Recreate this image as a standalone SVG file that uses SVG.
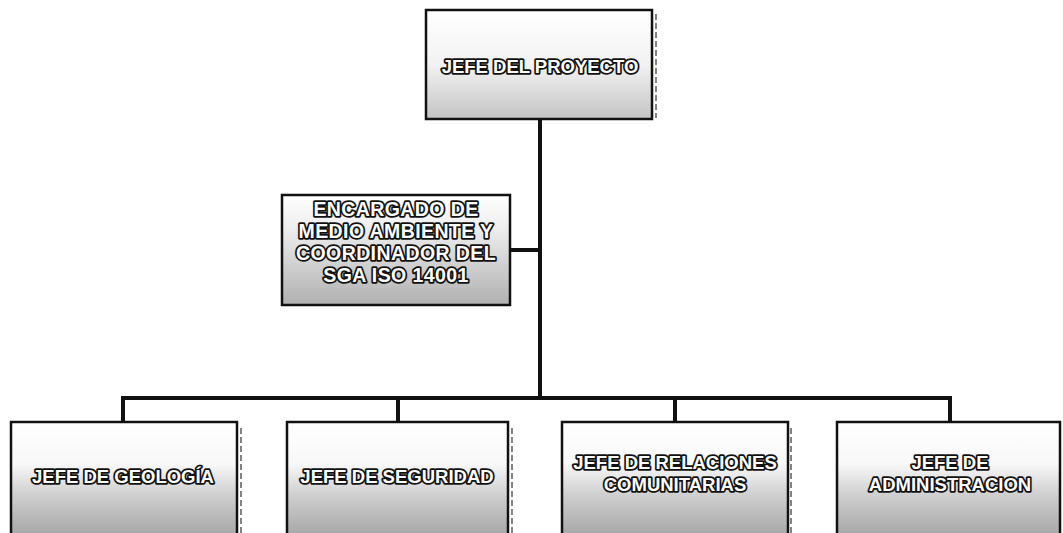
<svg xmlns="http://www.w3.org/2000/svg" width="1063" height="533" viewBox="0 0 1063 533">
<style>
.box{stroke:#111;stroke-width:2.5}
.edge{fill:none;stroke:#333;stroke-width:1.2;stroke-dasharray:6 3}
.lbl{font-family:"Liberation Sans",Arial,sans-serif;font-weight:bold;font-size:18.5px;fill:#fff;stroke:#111;stroke-width:3.5;paint-order:stroke;stroke-linejoin:round;text-anchor:middle}
.big{font-size:19.5px;letter-spacing:0.4px}
.conn{fill:none;stroke:#111;stroke-width:4;stroke-linejoin:miter}
</style>
<defs>
<linearGradient id="g1" x1="0" y1="0" x2="0" y2="1">
<stop offset="0" stop-color="#ffffff"/>
<stop offset="0.5" stop-color="#f2f2f2"/>
<stop offset="1" stop-color="#c4c4c4"/>
</linearGradient>
<linearGradient id="g2" x1="0" y1="0" x2="0" y2="1">
<stop offset="0" stop-color="#ffffff"/>
<stop offset="0.3" stop-color="#eeeeee"/>
<stop offset="1" stop-color="#b0b0b0"/>
</linearGradient>
<linearGradient id="g3" x1="0" y1="0" x2="0" y2="1">
<stop offset="0" stop-color="#ffffff"/>
<stop offset="0.35" stop-color="#f8f8f8"/>
<stop offset="0.6" stop-color="#d0d0d0"/>
<stop offset="1" stop-color="#a0a0a0"/>
</linearGradient>
</defs>
<g id="connectors">
<path class="conn" d="M540 120 V398"/>
<path class="conn" d="M510 250 H540"/>
<path class="conn" d="M123 422 V398 H950 V422"/>
<path class="conn" d="M398 398 V422"/>
<path class="conn" d="M675 398 V422"/>
</g>
<g id="n-proyecto">
<rect class="box" x="426" y="10" width="226" height="109" fill="url(#g1)"/>
<path class="edge" d="M656 14 V118"/>
<text class="lbl" x="540" y="73">JEFE DEL PROYECTO</text>
</g>
<g id="n-ambiente">
<rect class="box" x="282" y="195" width="228" height="110" fill="url(#g2)"/>
<text class="lbl big" x="396" y="216">ENCARGADO DE</text>
<text class="lbl big" x="396" y="238">MEDIO AMBIENTE Y</text>
<text class="lbl big" x="396" y="260">COORDINADOR DEL</text>
<text class="lbl big" x="396" y="282">SGA ISO 14001</text>
</g>
<g id="n-geologia">
<rect class="box" x="11" y="422" width="226" height="120" fill="url(#g3)"/>
<path class="edge" d="M241 428 V533"/>
<text class="lbl" x="123" y="483">JEFE DE GEOLOGÍA</text>
</g>
<g id="n-seguridad">
<rect class="box" x="287" y="422" width="221" height="120" fill="url(#g3)"/>
<path class="edge" d="M512 428 V533"/>
<text class="lbl" x="397" y="483">JEFE DE SEGURIDAD</text>
</g>
<g id="n-relaciones">
<rect class="box" x="562" y="422" width="226" height="120" fill="url(#g3)"/>
<path class="edge" d="M791 428 V533"/>
<text class="lbl" x="675" y="469">JEFE DE RELACIONES</text>
<text class="lbl" x="675" y="491">COMUNITARIAS</text>
</g>
<g id="n-administracion">
<rect class="box" x="837" y="422" width="223" height="120" fill="url(#g3)"/>
<text class="lbl" x="950" y="469">JEFE DE</text>
<text class="lbl" x="950" y="491">ADMINISTRACION</text>
</g>
</svg>
